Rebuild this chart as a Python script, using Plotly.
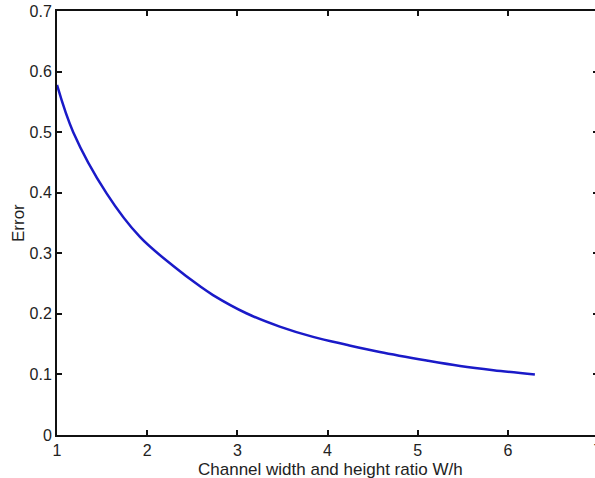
import plotly.graph_objects as go

ratio_wh = [1.0, 1.18, 1.55, 1.92, 2.29, 2.59, 2.73, 3.10, 3.47, 3.84, 4.21, 4.58, 5.10, 5.47, 5.84, 6.30]
error = [0.578, 0.500, 0.399, 0.327, 0.279, 0.245, 0.231, 0.201, 0.179, 0.162, 0.149, 0.137, 0.123, 0.114, 0.107, 0.100]
x_ticks = [1, 2, 3, 4, 5, 6, 7]
y_ticks = [0, 0.1, 0.2, 0.3, 0.4, 0.5, 0.6, 0.7]

tick_font = dict(family="Liberation Sans, Arial, sans-serif", size=16, color="#222")
title_font = dict(family="Liberation Sans, Arial, sans-serif", size=17, color="#222")

fig = go.Figure()
fig.add_trace(go.Scatter(x=ratio_wh, y=error, mode="lines",
                         line=dict(color="#1a1ac8", width=2.5, shape="spline", smoothing=1.0),
                         showlegend=False, hoverinfo="skip"))

fig.update_layout(
    width=598, height=478,
    margin=dict(l=57, r=0, t=11, b=43, autoexpand=False),
    paper_bgcolor="white", plot_bgcolor="white",
    font=tick_font,
    xaxis=dict(range=[1, 7], tickvals=x_ticks, ticks="inside", ticklen=5,
               tickwidth=1.5, tickcolor="#111", showline=True, linewidth=2,
               linecolor="#111", mirror="ticks", showgrid=False, zeroline=False,
               automargin=False, tickfont=tick_font, ticklabeloverflow="allow"),
    yaxis=dict(range=[0, 0.7], tickvals=y_ticks,
               ticktext=[("0" if v == 0 else f"{v:.1f}") for v in y_ticks],
               ticks="inside", ticklen=5, tickwidth=1.5, tickcolor="#111",
               showline=True, linewidth=2, linecolor="#111", mirror="ticks",
               showgrid=False, zeroline=False, automargin=False,
               tickfont=tick_font, ticklabeloverflow="allow"),
    annotations=[
        dict(text="Channel width and height ratio W/h", xref="paper", yref="paper",
             x=0.505, y=0, xanchor="center", yanchor="middle", yshift=-34,
             showarrow=False, font=title_font),
        dict(text="Error", xref="paper", yref="paper", x=0, y=0.5,
             xanchor="center", yanchor="middle", xshift=-39, textangle=-90,
             showarrow=False, font=title_font),
    ],
)

fig.write_html(
    "out.html",
    config={"displayModeBar": False},
    post_script="document.body.style.margin='0';"
                "document.body.style.overflow='hidden';"
                "document.documentElement.style.overflow='hidden';",
)
